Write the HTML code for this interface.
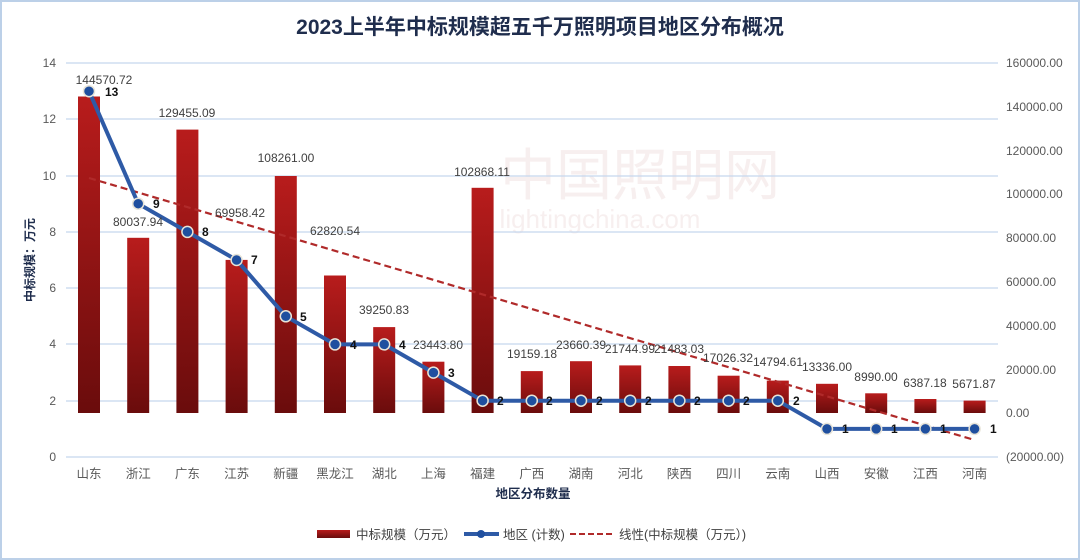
<!DOCTYPE html>
<html><head><meta charset="utf-8"><style>
body{margin:0;background:#fff}
svg{display:block;font-family:"Liberation Sans","Noto Sans CJK SC",sans-serif}
</style></head><body>
<svg width="1080" height="560" viewBox="0 0 1080 560">
<defs>
<linearGradient id="g" x1="0" y1="0" x2="0" y2="1"><stop offset="0" stop-color="#b81c1c"/><stop offset="1" stop-color="#6a0c0c"/></linearGradient>
</defs>
<rect x="1" y="1" width="1078" height="558" fill="#fff" stroke="#bcd0e8" stroke-width="2"/>
<text x="540" y="34" text-anchor="middle" font-size="21" font-weight="bold" fill="#1f2d4d">2023上半年中标规模超五千万照明项目地区分布概况</text>
<text x="640" y="195" text-anchor="middle" font-size="56" fill="#eedcdc" opacity="0.45">中国照明网</text>
<text x="600" y="228" text-anchor="middle" font-size="26" fill="#eedcdc" opacity="0.45">lightingchina.com</text>
<g stroke="#c5d7ee" stroke-width="1.2">
<line x1="66" y1="63" x2="998" y2="63"/><line x1="66" y1="119" x2="998" y2="119"/><line x1="66" y1="176" x2="998" y2="176"/><line x1="66" y1="232" x2="998" y2="232"/><line x1="66" y1="288" x2="998" y2="288"/><line x1="66" y1="344" x2="998" y2="344"/><line x1="66" y1="401" x2="998" y2="401"/><line x1="66" y1="457" x2="998" y2="457"/>
</g>
<g font-size="12" fill="#595959" text-anchor="end">
<text x="56" y="67">14</text><text x="56" y="123">12</text><text x="56" y="180">10</text><text x="56" y="236">8</text><text x="56" y="292">6</text><text x="56" y="348">4</text><text x="56" y="405">2</text><text x="56" y="461">0</text>
</g>
<g font-size="12" fill="#595959">
<text x="1006" y="67">160000.00</text><text x="1006" y="111">140000.00</text><text x="1006" y="155">120000.00</text><text x="1006" y="198">100000.00</text><text x="1006" y="242">80000.00</text><text x="1006" y="286">60000.00</text><text x="1006" y="330">40000.00</text><text x="1006" y="374">20000.00</text><text x="1006" y="417">0.00</text><text x="1006" y="461">(20000.00)</text>
</g>
<text transform="translate(34,260) rotate(-90)" text-anchor="middle" font-size="12" font-weight="bold" fill="#1f2d4d">中标规模：万元</text>
<g fill="url(#g)">
<rect x="78" y="96.5" width="22" height="316.5"/>
<rect x="127.2" y="237.8" width="22" height="175.2"/>
<rect x="176.4" y="129.6" width="22" height="283.4"/>
<rect x="225.6" y="259.9" width="22" height="153.1"/>
<rect x="274.8" y="176" width="22" height="237"/>
<rect x="324" y="275.5" width="22" height="137.5"/>
<rect x="373.2" y="327.1" width="22" height="85.9"/>
<rect x="422.4" y="361.7" width="22" height="51.3"/>
<rect x="471.6" y="187.8" width="22" height="225.2"/>
<rect x="520.8" y="371.1" width="22" height="41.9"/>
<rect x="570" y="361.2" width="22" height="51.8"/>
<rect x="619.2" y="365.4" width="22" height="47.6"/>
<rect x="668.4" y="366" width="22" height="47"/>
<rect x="717.6" y="375.7" width="22" height="37.3"/>
<rect x="766.8" y="380.6" width="22" height="32.4"/>
<rect x="816" y="383.8" width="22" height="29.2"/>
<rect x="865.2" y="393.3" width="22" height="19.7"/>
<rect x="914.4" y="399" width="22" height="14"/>
<rect x="963.6" y="400.6" width="22" height="12.4"/>
</g>
<line x1="89" y1="178" x2="974.6" y2="440" stroke="#b02a2a" stroke-width="2.2" stroke-dasharray="7,4"/>
<polyline fill="none" stroke="#2e5aa6" stroke-width="4" stroke-linejoin="round" points="89,91.2 138.2,203.7 187.4,231.9 236.6,260 285.8,316.3 335,344.4 384.2,344.4 433.4,372.6 482.6,400.7 531.8,400.7 581,400.7 630.2,400.7 679.4,400.7 728.6,400.7 777.8,400.7 827,428.9 876.2,428.9 925.4,428.9 974.6,428.9"/>
<g fill="#1f4f9f" stroke="#e8e4d8" stroke-width="1.5">
<circle cx="89" cy="91.2" r="5.5"/><circle cx="138.2" cy="203.7" r="5.5"/><circle cx="187.4" cy="231.9" r="5.5"/><circle cx="236.6" cy="260" r="5.5"/><circle cx="285.8" cy="316.3" r="5.5"/><circle cx="335" cy="344.4" r="5.5"/><circle cx="384.2" cy="344.4" r="5.5"/><circle cx="433.4" cy="372.6" r="5.5"/><circle cx="482.6" cy="400.7" r="5.5"/><circle cx="531.8" cy="400.7" r="5.5"/><circle cx="581" cy="400.7" r="5.5"/><circle cx="630.2" cy="400.7" r="5.5"/><circle cx="679.4" cy="400.7" r="5.5"/><circle cx="728.6" cy="400.7" r="5.5"/><circle cx="777.8" cy="400.7" r="5.5"/><circle cx="827" cy="428.9" r="5.5"/><circle cx="876.2" cy="428.9" r="5.5"/><circle cx="925.4" cy="428.9" r="5.5"/><circle cx="974.6" cy="428.9" r="5.5"/>
</g>
<g font-size="12" font-weight="bold" fill="#111">
<text x="105" y="96">13</text><text x="153" y="208">9</text><text x="202" y="236">8</text><text x="251" y="264">7</text><text x="300" y="321">5</text><text x="350" y="349">4</text><text x="399" y="349">4</text><text x="448" y="377">3</text><text x="497" y="405">2</text><text x="546" y="405">2</text><text x="596" y="405">2</text><text x="645" y="405">2</text><text x="694" y="405">2</text><text x="743" y="405">2</text><text x="793" y="405">2</text><text x="842" y="433">1</text><text x="891" y="433">1</text><text x="940" y="433">1</text><text x="990" y="433">1</text>
</g>
<g font-size="12" fill="#404040" text-anchor="middle">
<text x="104" y="84">144570.72</text><text x="138" y="226">80037.94</text><text x="187" y="117">129455.09</text><text x="240" y="217">69958.42</text><text x="286" y="162">108261.00</text><text x="335" y="235">62820.54</text><text x="384" y="314">39250.83</text><text x="438" y="349">23443.80</text><text x="482" y="176">102868.11</text><text x="532" y="358">19159.18</text><text x="581" y="349">23660.39</text><text x="630" y="353">21744.99</text><text x="679" y="353">21483.03</text><text x="728" y="362">17026.32</text><text x="778" y="366">14794.61</text><text x="827" y="371">13336.00</text><text x="876" y="381">8990.00</text><text x="925" y="387">6387.18</text><text x="974" y="388">5671.87</text>
</g>
<g font-size="12.5" fill="#595959" text-anchor="middle">
<text x="89" y="478">山东</text><text x="138.2" y="478">浙江</text><text x="187.4" y="478">广东</text><text x="236.6" y="478">江苏</text><text x="285.8" y="478">新疆</text><text x="335" y="478">黑龙江</text><text x="384.2" y="478">湖北</text><text x="433.4" y="478">上海</text><text x="482.6" y="478">福建</text><text x="531.8" y="478">广西</text><text x="581" y="478">湖南</text><text x="630.2" y="478">河北</text><text x="679.4" y="478">陕西</text><text x="728.6" y="478">四川</text><text x="777.8" y="478">云南</text><text x="827" y="478">山西</text><text x="876.2" y="478">安徽</text><text x="925.4" y="478">江西</text><text x="974.6" y="478">河南</text>
</g>
<text x="533" y="498" text-anchor="middle" font-size="12.5" font-weight="bold" fill="#1f2d4d">地区分布数量</text>
<rect x="317" y="530" width="33" height="8" fill="url(#g)"/>
<g font-size="12.5" fill="#404040"><text x="356" y="539">中标规模（万元）</text><text x="503" y="539">地区 (计数)</text><text x="619" y="539">线性(中标规模（万元）)</text></g>
<line x1="464" y1="534" x2="499" y2="534" stroke="#2e5aa6" stroke-width="4"/>
<circle cx="481" cy="534" r="4" fill="#1f4f9f"/>
<line x1="570" y1="534" x2="615" y2="534" stroke="#b02a2a" stroke-width="2" stroke-dasharray="6,3"/>
</svg>
</body></html>
